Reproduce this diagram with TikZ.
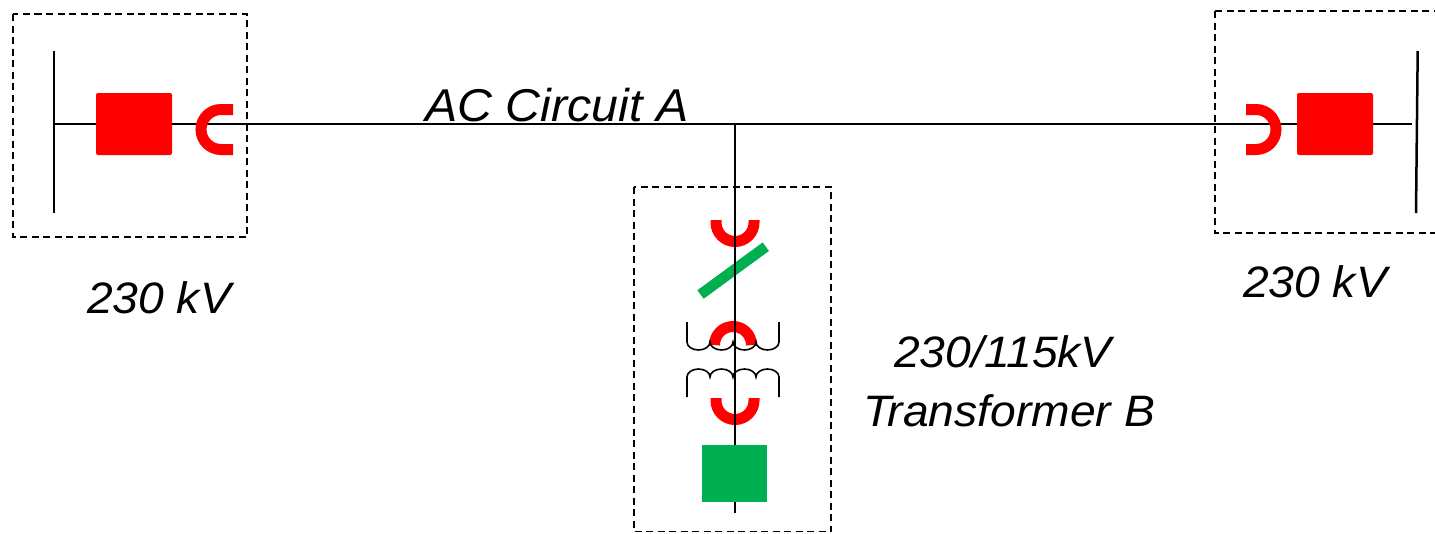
\documentclass[tikz,border=0pt]{standalone}
\usepackage{fontspec}
\setmainfont{Liberation Sans}
\newfontfamily\lblfont[FakeStretch=1.05]{Liberation Sans}
\definecolor{brkred}{HTML}{FF0000}
\definecolor{grn}{HTML}{00B050}
\begin{document}
\begin{tikzpicture}[x=1pt,y=-1pt,
  wire/.style={line width=2pt,black},
  busbar/.style={line width=2.5pt,black},
  zone/.style={line width=1.6pt,dash pattern=on 7pt off 4.5pt},
  cbk/.style={fill=brkred,rounded corners=2pt,minimum width=76pt,minimum height=62pt,inner sep=0pt},
  gbox/.style={fill=grn,minimum width=65pt,minimum height=57pt,inner sep=0pt},
  ctarc/.style={draw=brkred,line width=11pt},
  coil/.style={line width=1.6pt,black},
  lbl/.style={font=\lblfont\itshape\fontsize{44}{52}\selectfont,anchor=base,inner sep=0pt},
  biglbl/.style={font=\lblfont\itshape\fontsize{46}{54}\selectfont,anchor=base,inner sep=0pt}]
\useasboundingbox (0,0) rectangle (1435,533);
\clip (0,0) rectangle (1435,533);
% coordinates
\coordinate (busLt) at (54,51);
\coordinate (busLb) at (54,213);
\coordinate (busRt) at (1417.7,51);
\coordinate (busRb) at (1416,213);
\coordinate (lineL) at (54,124);
\coordinate (lineR) at (1412,124);
\coordinate (tee) at (735,124);
\coordinate (tail) at (735,513);
% zones
\draw[zone] (13,14) rectangle (247,237);
\draw[zone] (1215,11) rectangle (1445,233);
\draw[zone] (634,187) rectangle (831,531.5);
% buses and line
\draw[busbar] (busLt) -- (busLb);
\draw[busbar] (busRt) -- (busRb);
\draw[wire] (lineL) -- (lineR);
% left/right CTs
\draw[ctarc] (233,109.5) -- (221,109.5) arc[start angle=270,end angle=90,radius=20] -- (233,149.5);
\draw[ctarc] (1246,109.5) -- (1256,109.5) arc[start angle=270,end angle=450,radius=20] -- (1246,149.5);
% breakers
\node[cbk] (bkL) at (134,124) {};
\node[cbk] (bkR) at (1335,124) {};
% transformer branch
\draw[ctarc] (716,220) -- (716,222.5) arc[start angle=180,end angle=0,radius=19] -- (754,220);
\draw[ctarc] (714.5,345) arc[start angle=180,end angle=360,radius=18.5];
\draw[ctarc] (716,398) -- (716,400.5) arc[start angle=180,end angle=0,radius=19] -- (754,398);
\draw[grn,line width=10.6pt] (700.5,294.5) -- (765.8,246.7);
\draw[wire] (tee) -- (tail);
% windings
\draw[coil] (687,322) -- (687,342)
  arc[start angle=180,end angle=0,x radius=11.5,y radius=8]
  arc[start angle=180,end angle=0,x radius=11.5,y radius=8]
  arc[start angle=180,end angle=0,x radius=11.5,y radius=8]
  arc[start angle=180,end angle=0,x radius=11.5,y radius=8]
  -- (779,322);
\draw[coil] (687,397) -- (687,377)
  arc[start angle=180,end angle=360,x radius=11.5,y radius=8]
  arc[start angle=180,end angle=360,x radius=11.5,y radius=8]
  arc[start angle=180,end angle=360,x radius=11.5,y radius=8]
  arc[start angle=180,end angle=360,x radius=11.5,y radius=8]
  -- (779,397);
\node[gbox] (gen) at (734.5,473.5) {};
% labels
\node[biglbl] (lac) at (557,121) {AC Circuit A};
\node[lbl] (lkvL) at (159,313) {230 kV};
\node[lbl] (lkvR) at (1315,297) {230 kV};
\node[lbl] (ltx1) at (1003,367) {230/115kV};
\node[lbl] (ltx2) at (1009,426) {Transformer B};
\end{tikzpicture}
\end{document}
